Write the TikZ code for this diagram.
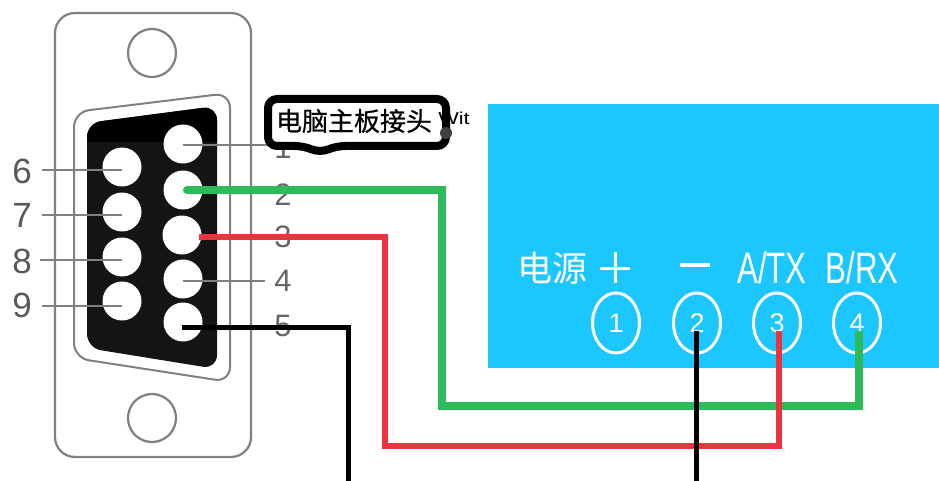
\documentclass[tikz,border=0pt]{standalone}
\usepackage{fontspec}
\usepackage{graphicx}
\setmainfont{Liberation Sans}
\newfontfamily\cjk{Noto Sans CJK SC}
\newfontfamily\cjkb[FakeBold=0.6]{Noto Sans CJK SC}
\usetikzlibrary{shapes.geometric}
\definecolor{panelblue}{HTML}{1CC7FF}
\definecolor{wiregreen}{HTML}{2DBB5A}
\definecolor{wirered}{HTML}{EE3340}
\definecolor{linegray}{gray}{0.5}
\tikzset{
  x=1pt,y=-1pt,
  plate/.style={draw=linegray,line width=2.2pt,fill=white},
  pin/.style={circle,fill=white,draw=none,minimum size=39pt,inner sep=0pt},
  hole/.style={circle,draw=linegray,line width=2.2pt,fill=white,minimum size=48pt,inner sep=0pt},
  leader/.style={draw=linegray,line width=1.8pt},
  pinnum/.style={text=black!65,font=\fontsize{35}{35}\selectfont,inner sep=0pt},
  rnum/.style={text=black!60,font=\fontsize{31}{31}\selectfont,inner sep=0pt},
  term/.style={ellipse,draw=white,line width=3pt,minimum width=47pt,minimum height=60pt,inner sep=0pt,text=white,font=\fontsize{27}{27}\selectfont},
  paneltext/.style={text=white,inner sep=0pt,font=\fontsize{44}{44}\selectfont},
  wire/.style={line join=miter,line cap=butt}
}
\begin{document}
\begin{tikzpicture}
\useasboundingbox (0,0) rectangle (939,481);
\fill[white] (0,0) rectangle (939,481);
% panel
\node[fill=panelblue,minimum width=451pt,minimum height=264pt,inner sep=0pt,anchor=north west] (panel) at (488,104) {};
% connector plate
\draw[plate,rounded corners=20pt] (55,13) rectangle (251,457);
\node[hole] (holetop) at (152,53) {};
\node[hole] (holebot) at (152,418) {};
\draw[draw=linegray,line width=2pt,rounded corners=15pt,fill=white]
  (74,112) -- (230,93) -- (230,382) -- (74,358) -- cycle;
\fill[black!92,rounded corners=14pt]
  (87,123) -- (217,106) -- (217,369) -- (87,348) -- cycle;
\begin{scope}
\clip (87,100) rectangle (217,142);
\fill[black,rounded corners=14pt]
  (87,123) -- (217,106) -- (217,369) -- (87,348) -- cycle;
\end{scope}
% pins
\node[pin] (p1) at (183,144) {};
\node[pin] (p2) at (183,190) {};
\node[pin] (p3) at (182,235) {};
\node[pin] (p4) at (183,279) {};
\node[pin] (p5) at (183,322) {};
\node[pin] (p6) at (122,167) {};
\node[pin] (p7) at (122,212) {};
\node[pin] (p8) at (122,257) {};
\node[pin] (p9) at (122,301) {};
% labels
\node[pinnum] (n6) at (22,171) {6};
\node[pinnum] (n7) at (22,215) {7};
\node[pinnum] (n8) at (22,261) {8};
\node[pinnum] (n9) at (22,305) {9};
\node[rnum] (n1) at (283,148) {1};
\node[rnum] (n2) at (283,195) {2};
\node[rnum] (n3) at (283,237) {3};
\node[rnum] (n4) at (283,281) {4};
\node[rnum] (n5) at (283,326) {5};
% leaders
\coordinate (l6) at (42,170);
\coordinate (l7) at (42,215);
\coordinate (l8) at (40,260);
\coordinate (l9) at (42,306);
\coordinate (l1) at (270,145);
\coordinate (l4) at (265,281);
\draw[leader] (l6) -- (l6 -| p6);
\draw[leader] (l7) -- (l7 -| p7);
\draw[leader] (l8) -- (l8 -| p8);
\draw[leader] (l9) -- (l9 -| p9);
\draw[leader] (l1 -| p1) -- (l1);
\draw[leader] (l4 -| p4) -- (l4);
% callout
\draw[line width=8pt,fill=white,rounded corners=9pt]
  (268,99) -- (446,99) -- (446,146) -- (336,146) -- (320,153) -- (304,146) -- (268,146) -- cycle;
\node[inner sep=0pt,font=\cjkb\fontsize{26}{26}\selectfont] (callout) at (354,121) {电脑主板接头};
\node[inner sep=0pt,font=\fontsize{15}{15}\selectfont] (tiny) at (454,118) {\scalebox{1.45}[1.15]{Wit}};
\fill[black!75] (446,133) circle (6pt);
% panel text
\node[paneltext,font=\cjk\fontsize{35}{35}\selectfont] (lpow) at (552,268) {电源};
\fill[white] (600,266.5) rectangle (630,269.5);
\fill[white] (613.5,252) rectangle (616.5,283);
\node[paneltext] (lminus) at (695,265) {\rule{30pt}{3.5pt}};
\node[paneltext] (la) at (772,268) {\scalebox{.71}[1]{A/TX}};
\node[paneltext] (lb) at (862,268) {\scalebox{.71}[1]{B/RX}};
\node[term] (t1) at (616,323) {1};
\node[term] (t2) at (697,323) {2};
\node[term] (t3) at (777,323) {3};
\node[term] (t4) at (857,323) {4};
% wires
\coordinate (gA) at (187,190);
\coordinate (rA) at (199,237);
\coordinate (kA) at (182,327);
\coordinate (kEnd) at (348,481);
\coordinate (k2End) at (696,481);
\draw[wire,wiregreen,line width=8pt] (gA) -- (442,190) -- (442,406) -- (859,406) -- (859,331);
\fill[wiregreen] (gA) circle (4pt);
\draw[wire,wirered,line width=6pt] (rA) -- (385,237) -- (385,446) -- (779,446) -- (779,331);
\draw[wire,black,line width=5pt] (kA) -- (348,327) -- (kEnd);
\draw[wire,black,line width=5pt] (696,331) -- (k2End);
\end{tikzpicture}
\end{document}
